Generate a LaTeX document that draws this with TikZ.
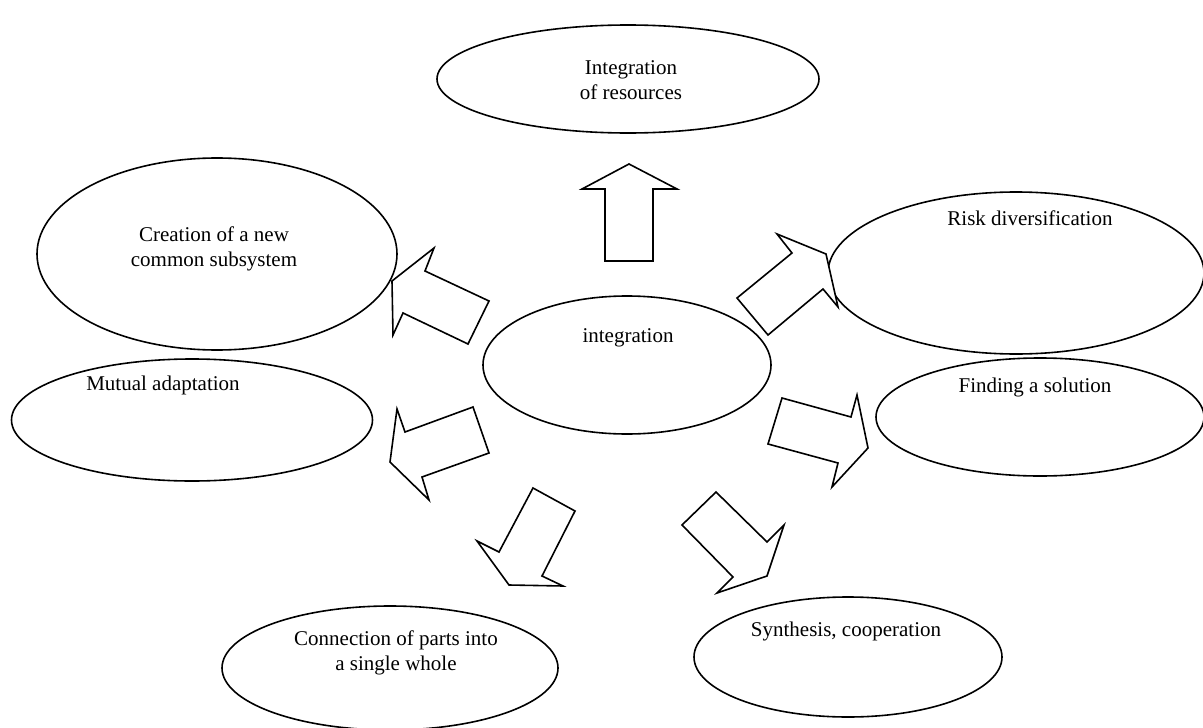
\documentclass[tikz,border=0pt]{standalone}
\usepackage{fontspec}
\setmainfont{Liberation Serif}
\usetikzlibrary{shapes.geometric}

\tikzset{
  blob/.style={draw, ellipse, line width=1.6pt, inner sep=0pt},
  txt/.style={align=center, font=\fontsize{21}{25}\selectfont, inner sep=0pt},
  blockarrow/.style={draw, line width=1.6pt, line join=miter, fill=white}
}

\begin{document}
\begin{tikzpicture}[x=1pt,y=-1pt]
			\useasboundingbox (0,0) rectangle (1203,728);
			\node[blob, minimum width=382pt, minimum height=108pt] (res) at (628,79) {};
			\node[blob, minimum width=360pt, minimum height=192pt] (sub) at (217,254) {};
			\node[blob, minimum width=376pt, minimum height=162pt] (risk) at (1016,273) {};
			\node[blob, minimum width=288pt, minimum height=138pt] (integ) at (627,365) {};
			\node[blob, minimum width=361pt, minimum height=122pt] (mutual) at (192,420) {};
			\node[blob, minimum width=328pt, minimum height=118pt] (sol) at (1040,417) {};
			\node[blob, minimum width=336pt, minimum height=124pt] (parts) at (390,668) {};
			\node[blob, minimum width=308pt, minimum height=120pt] (synth) at (848,657) {};
			\node[txt] (resT) at (631,80) {Integration\\of resources};
			\node[txt] (subT) at (214,249) {Creation of a new\\common subsystem};
			\node[txt] (riskT) at (1030,218) {Risk diversification};
			\node[txt] (integT) at (628,338) {integration};
			\node[txt] (mutualT) at (163,385) {Mutual adaptation};
			\node[txt] (solT) at (1035,387) {Finding a solution};
			\node[txt] (partsT) at (396,653) {Connection of parts into\\a single whole};
			\node[txt] (synthT) at (846,631) {Synthesis, cooperation};
			% block arrows out of the centre
			\draw[blockarrow] (605,261) -- (605,189) -- (582,189) -- (629,164) -- (677,189) -- (653,189) -- (653,261) -- cycle;
			\draw[blockarrow] (737,298) -- (792,253) -- (777,234) -- (826,254) -- (838,307) -- (823,289) -- (768,335) -- cycle;
			\draw[blockarrow] (489,301) -- (425,271) -- (434,248) -- (392,281) -- (393,335) -- (403,313) -- (468,344) -- cycle;
			\draw[blockarrow] (473,407) -- (405,432) -- (397,409) -- (390,462) -- (429,500) -- (422,477) -- (489,453) -- cycle;
			\draw[blockarrow] (533,488) -- (499,552) -- (477,541) -- (509,585) -- (563,586) -- (542,576) -- (575,511) -- cycle;
			\draw[blockarrow] (682,525) -- (733,577) -- (717,593) -- (767,576) -- (784,525) -- (767,542) -- (716,492) -- cycle;
			\draw[blockarrow] (782,398) -- (851,417) -- (857,395) -- (868,448) -- (832,487) -- (838,463) -- (768,444) -- cycle;
\end{tikzpicture}
\end{document}
